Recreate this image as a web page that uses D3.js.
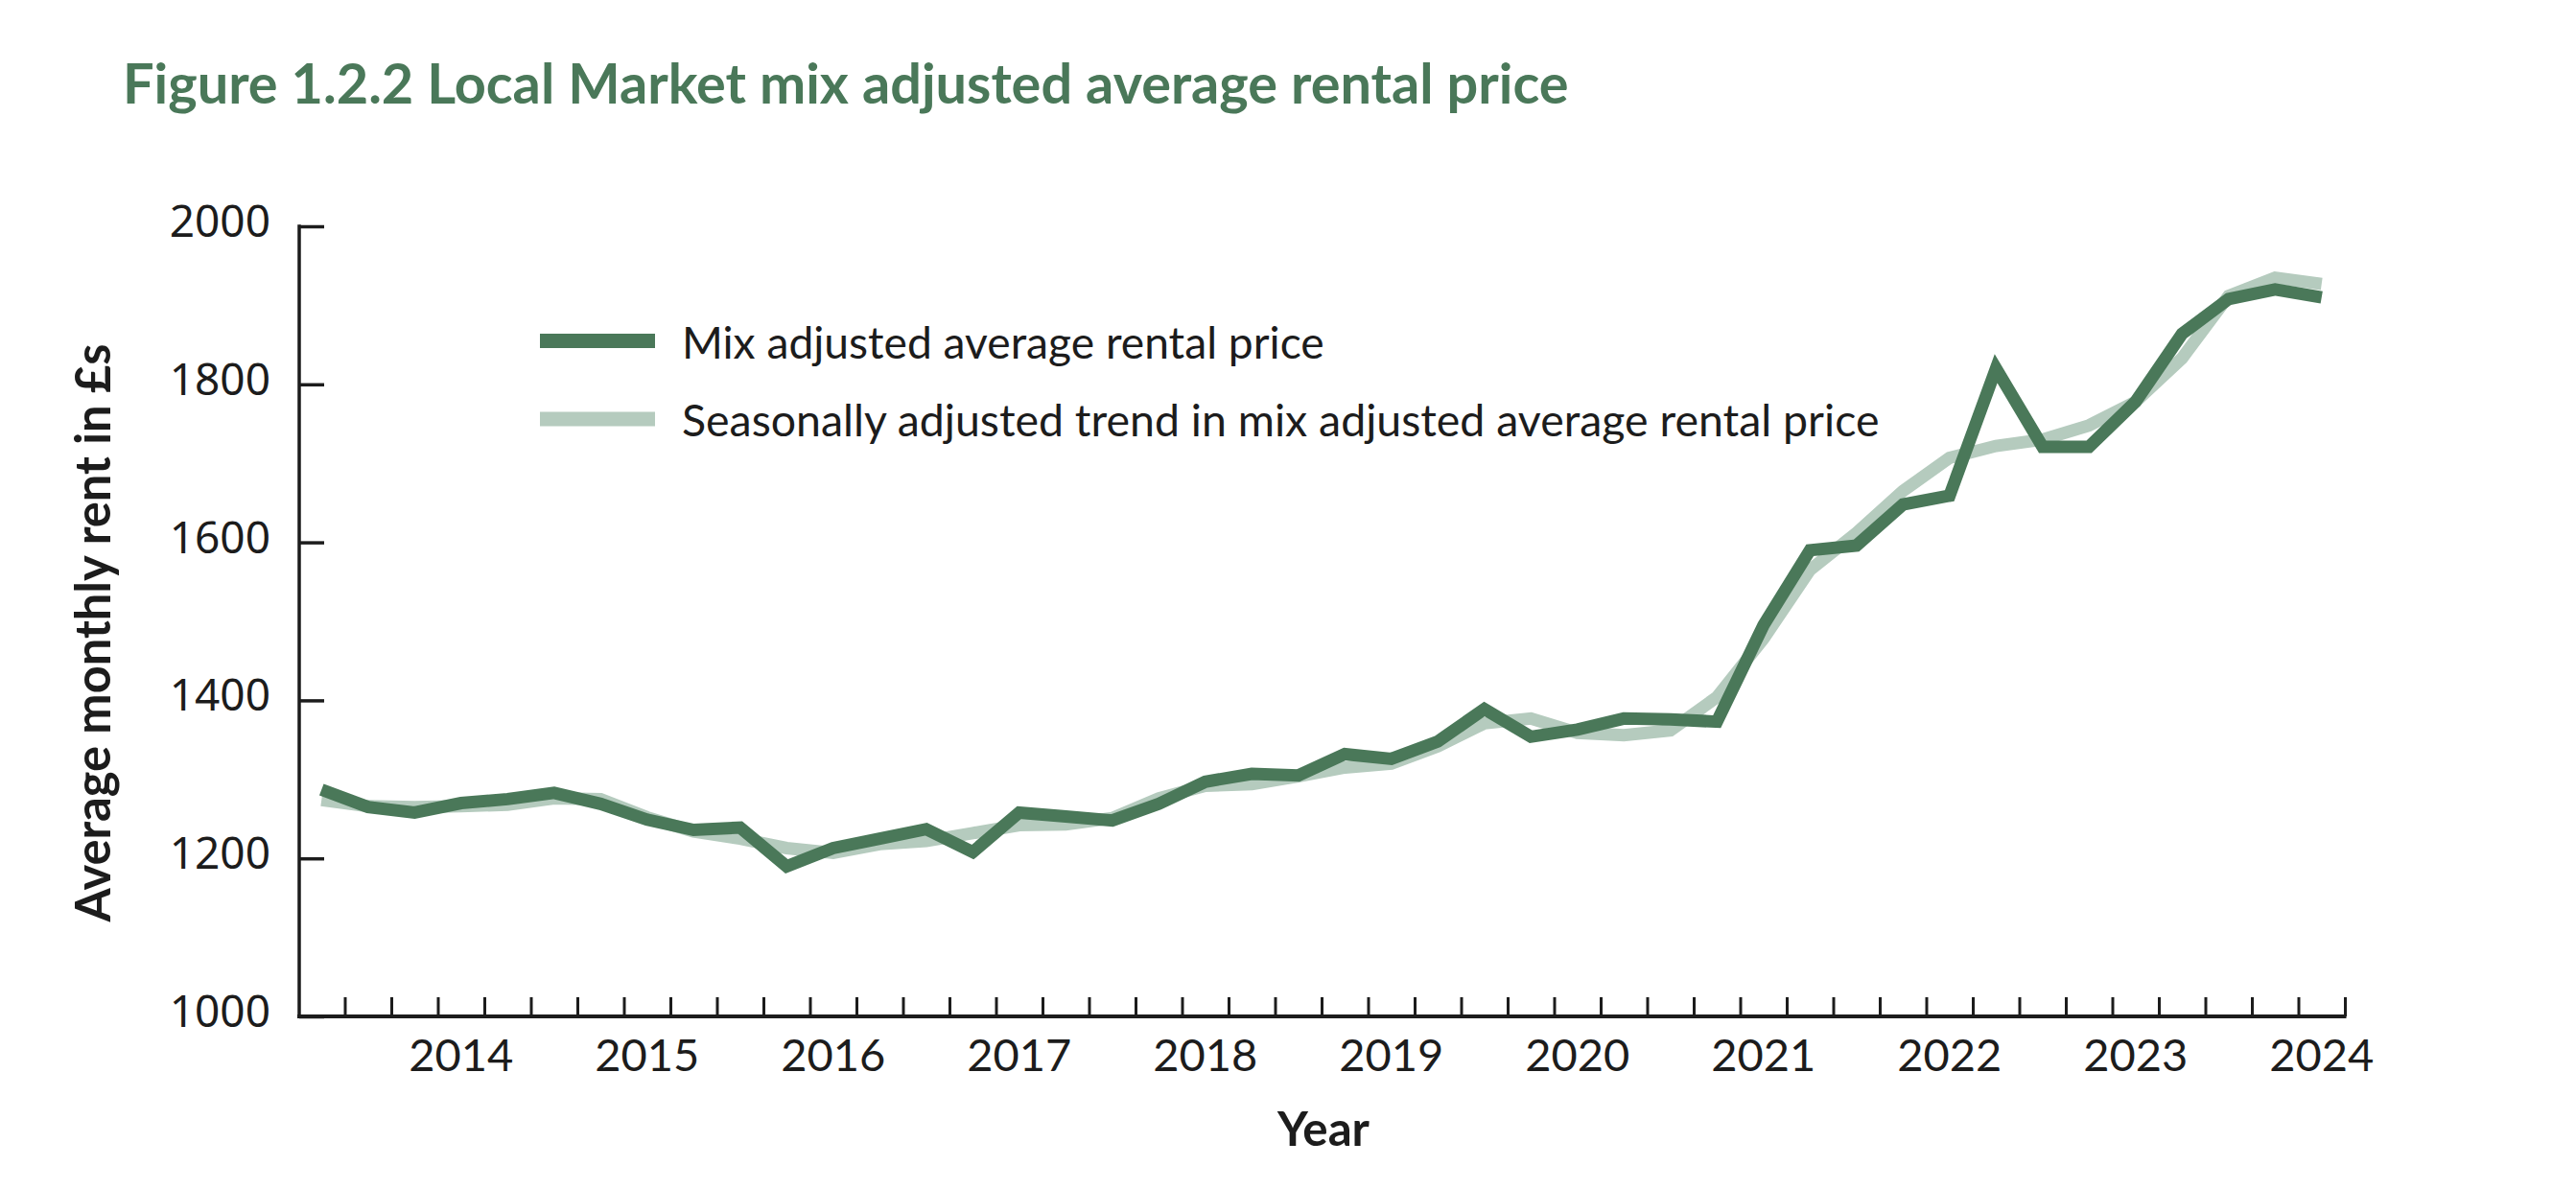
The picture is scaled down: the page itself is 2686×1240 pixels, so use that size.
<!DOCTYPE html>
<html><head><meta charset="utf-8">
<script src="https://cdn.jsdelivr.net/npm/d3@7"></script>
<style>html,body{margin:0;padding:0;background:#fff;} svg{display:block;}</style>
</head><body>
<svg id="chart" width="2686" height="1240"></svg>
<script>
const quarters = ["2013 Q2","2013 Q3","2013 Q4",
  "2014 Q1","2014 Q2","2014 Q3","2014 Q4",
  "2015 Q1","2015 Q2","2015 Q3","2015 Q4",
  "2016 Q1","2016 Q2","2016 Q3","2016 Q4",
  "2017 Q1","2017 Q2","2017 Q3","2017 Q4",
  "2018 Q1","2018 Q2","2018 Q3","2018 Q4",
  "2019 Q1","2019 Q2","2019 Q3","2019 Q4",
  "2020 Q1","2020 Q2","2020 Q3","2020 Q4",
  "2021 Q1","2021 Q2","2021 Q3","2021 Q4",
  "2022 Q1","2022 Q2","2022 Q3","2022 Q4",
  "2023 Q1","2023 Q2","2023 Q3","2023 Q4",
  "2024 Q1"];
const mixAdjusted = [1287,1265,1258,1270,1275,1283,1269,1249,1236,1239,1190,1213,1225,1237,1208,1258,1253,1248,1269,1297,1307,1305,1332,1326,1348,1389,1354,1363,1377,1376,1373,1495,1590,1596,1648,1659,1820,1721,1721,1778,1864,1908,1920,1910];
const seasonalTrend = [1274,1266,1265,1266,1268,1276,1275,1252,1234,1225,1213,1207,1218,1222,1232,1242,1243,1251,1276,1292,1294,1304,1315,1320,1342,1371,1377,1359,1356,1362,1404,1478,1565,1612,1665,1707,1722,1730,1748,1778,1833,1912,1935,1927];
const yearTickQuarters = ["2014 Q1","2015 Q1","2016 Q1","2017 Q1","2018 Q1","2019 Q1","2020 Q1","2021 Q1","2022 Q1","2023 Q1","2024 Q1"];
const yearLabels = ["2014","2015","2016","2017","2018","2019","2020","2021","2022","2023","2024"];
const yTicks = [1000,1200,1400,1600,1800,2000];
const seriesNames = ["Mix adjusted average rental price","Seasonally adjusted trend in mix adjusted average rental price"];
const seriesColors = ["#4a7859","#b5cbbe"];
const titleText = "Figure 1.2.2 Local Market mix adjusted average rental price";
const yAxisTitle = "Average monthly rent in £s";
const xAxisTitle = "Year";

const svg = d3.select("#chart");
const inkColor = "#1c1c1c";
const labelFont = "Lato, 'Open Sans', sans-serif";

function fit(sel, target){
  const n = sel.node();
  const len = n.getComputedTextLength();
  const fs = parseFloat(sel.attr("font-size"));
  sel.attr("font-size", fs*target/len);
}

const x = d3.scaleBand().domain(quarters).range([311, 2445]).padding(0);
const xEdge = d3.scaleLinear().domain([0, quarters.length]).range([311, 2445]);
const y = d3.scaleLinear().domain([1000, 2000]).range([1060, 236]);

// title
const t = svg.append("text").attr("x",128).attr("y",108)
  .attr("font-family",labelFont).attr("font-weight",700).attr("font-size",54)
  .attr("fill","#4a7859").text(titleText);
fit(t, 1508);

// y axis
const yAxis = svg.append("g").attr("transform","translate(312,0)")
  .call(d3.axisLeft(y).tickValues(yTicks).tickSize(-26).tickPadding(30).tickFormat(d3.format("d")));
yAxis.select(".domain").remove();
yAxis.selectAll(".tick line").attr("stroke",inkColor).attr("stroke-width",3.5);
yAxis.selectAll(".tick text").attr("font-family","'Noto Sans', 'Open Sans', sans-serif")
  .attr("font-size",46).attr("fill",inkColor).attr("dy","0.23em");
svg.append("line").attr("x1",312).attr("x2",312).attr("y1",y(2000)-1.75).attr("y2",y(1000)+2)
  .attr("stroke",inkColor).attr("stroke-width",3.5);

// x axis minor ticks at band edges
const xTickAxis = svg.append("g").attr("transform",`translate(0,${y(1000)})`)
  .call(d3.axisBottom(xEdge).tickValues(d3.range(1, quarters.length+1)).tickSize(-20).tickFormat(""));
xTickAxis.select(".domain").remove();
xTickAxis.selectAll(".tick line").attr("stroke",inkColor).attr("stroke-width",3);
svg.append("line").attr("x1",310).attr("x2",xEdge(quarters.length)+1.5).attr("y1",y(1000)).attr("y2",y(1000))
  .attr("stroke",inkColor).attr("stroke-width",4);

// year labels
const xLab = svg.append("g").attr("transform",`translate(0,${y(1000)})`)
  .call(d3.axisBottom(x).tickValues(yearTickQuarters).tickSize(0).tickFormat(q => yearLabels[yearTickQuarters.indexOf(q)]));
xLab.select(".domain").remove();
xLab.selectAll(".tick text").attr("y",57).attr("dy",0)
  .attr("font-family",labelFont).attr("font-size",47).attr("fill",inkColor);

// axis titles
const yt = svg.append("text").attr("transform","translate(115,660) rotate(-90)")
  .attr("text-anchor","middle").attr("font-family",labelFont).attr("font-weight",700)
  .attr("font-size",46).attr("fill",inkColor).text(yAxisTitle);
fit(yt, 603);
const xt = svg.append("text").attr("x",1380).attr("y",1195).attr("text-anchor","middle")
  .attr("font-family",labelFont).attr("font-weight",700).attr("font-size",46).attr("fill",inkColor).text(xAxisTitle);
fit(xt, 96);

// lines
const line = d3.line().x((d,i) => x(quarters[i]) + x.bandwidth()/2).y(d => y(d));
[seasonalTrend, mixAdjusted].forEach((s, k) => {
  svg.append("path").datum(s).attr("d", line).attr("fill","none")
    .attr("stroke", seriesColors[1-k]).attr("stroke-width",13)
    .attr("stroke-linejoin","miter").attr("stroke-miterlimit",10).attr("stroke-linecap","butt");
});

// legend
const legY = [355.5, 437];
const legTarget = [670, 1249];
seriesNames.forEach((name, i) => {
  svg.append("line").attr("x1",563).attr("x2",683).attr("y1",legY[i]).attr("y2",legY[i])
    .attr("stroke",seriesColors[i]).attr("stroke-width",15);
  const lt = svg.append("text").attr("x",711).attr("y",legY[i]+18)
    .attr("font-family",labelFont).attr("font-size",44).attr("fill",inkColor).text(name);
  fit(lt, legTarget[i]);
});
</script>
</body></html>
